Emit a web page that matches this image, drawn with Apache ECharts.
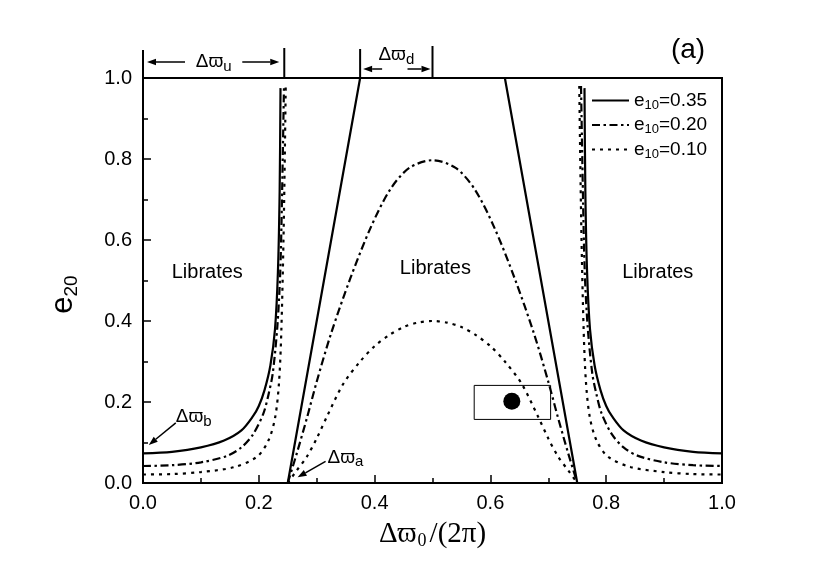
<!DOCTYPE html>
<html>
<head>
<meta charset="utf-8">
<script src="https://cdn.jsdelivr.net/npm/echarts@6/dist/echarts.min.js"></script>
<style>
  html, body { margin: 0; padding: 0; background: #fff; }
  #chart { width: 830px; height: 574px; }
</style>
</head>
<body>
<div id="chart"></div>
<script>
// e10 = 0.35 (solid)
const solidLeftX = [0, 0.05, 0.10, 0.14, 0.17, 0.19, 0.20, 0.21, 0.22, 0.228, 0.233, 0.236, 0.2375];
const solidLeftE = [0.073, 0.077, 0.088, 0.105, 0.13, 0.165, 0.19, 0.23, 0.29, 0.38, 0.52, 0.72, 0.975];
const solidMidX = [0.25, 0.375, 0.625, 0.75];
const solidMidE = [0, 1.0, 1.0, 0];
const solidRightX = [0.7625, 0.764, 0.767, 0.772, 0.78, 0.79, 0.80, 0.81, 0.83, 0.86, 0.90, 0.95, 1.0];
const solidRightE = [0.975, 0.72, 0.52, 0.38, 0.29, 0.23, 0.19, 0.165, 0.13, 0.105, 0.088, 0.077, 0.073];

// e10 = 0.20 (dash-dot)
const dashLeftX = [0, 0.05, 0.10, 0.145, 0.17, 0.19, 0.208, 0.217, 0.224, 0.232, 0.237, 0.240, 0.2435];
const dashLeftE = [0.042, 0.044, 0.051, 0.067, 0.088, 0.12, 0.172, 0.22, 0.27, 0.386, 0.52, 0.70, 0.98];
const dashMidX = [0.25, 0.266, 0.283, 0.30, 0.325, 0.358, 0.393, 0.427, 0.46, 0.50, 0.54, 0.573, 0.607, 0.642, 0.675, 0.70, 0.717, 0.734, 0.75];
const dashMidE = [0, 0.075, 0.16, 0.25, 0.37, 0.505, 0.63, 0.725, 0.778, 0.797, 0.778, 0.725, 0.63, 0.505, 0.37, 0.25, 0.16, 0.075, 0];
const dashRightX = [0.7565, 0.76, 0.763, 0.768, 0.776, 0.783, 0.792, 0.81, 0.83, 0.855, 0.90, 0.95, 1.0];
const dashRightE = [0.98, 0.70, 0.52, 0.386, 0.27, 0.22, 0.172, 0.12, 0.088, 0.067, 0.051, 0.044, 0.042];

// e10 = 0.10 (dotted)
const dotLeftX = [0, 0.05, 0.10, 0.157, 0.197, 0.217, 0.2285, 0.235, 0.239, 0.243, 0.2465];
const dotLeftE = [0.021, 0.022, 0.027, 0.039, 0.065, 0.106, 0.164, 0.25, 0.38, 0.63, 0.98];
const dotMidX = [0.25, 0.265, 0.283, 0.30, 0.318, 0.346, 0.375, 0.40, 0.425, 0.45, 0.475, 0.50, 0.525, 0.55, 0.575, 0.60, 0.625, 0.654, 0.682, 0.70, 0.717, 0.735, 0.75];
const dotMidE = [0, 0.03, 0.065, 0.11, 0.165, 0.245, 0.30, 0.338, 0.365, 0.385, 0.396, 0.40, 0.396, 0.385, 0.365, 0.338, 0.30, 0.245, 0.165, 0.11, 0.065, 0.03, 0];
const dotRightX = [0.7535, 0.757, 0.761, 0.765, 0.7715, 0.783, 0.803, 0.843, 0.90, 0.95, 1.0];
const dotRightE = [0.98, 0.63, 0.38, 0.25, 0.164, 0.106, 0.065, 0.039, 0.027, 0.022, 0.021];

// marked point and its box
const pointX = [0.637];
const pointE = [0.202];
const boxX = [0.572, 0.704];
const boxE = [0.157, 0.241];

const seriesNames = ['e10=0.35', 'e10=0.20', 'e10=0.10'];

const FONT = '"Liberation Sans", Arial, Helvetica, sans-serif';
const SERIF = '"Liberation Serif", "Times New Roman", serif';

const pairs = (xs, ys) => xs.map((x, i) => [x, ys[i]]);

const styles = [
  { color: '#000', width: 2.2, type: 'solid' },
  { color: '#000', width: 2.2, type: [8, 3.5, 2.5, 3.5] },
  { color: '#000', width: 2.2, type: [3, 5] }
];

const branches = [
  [[solidLeftX, solidLeftE], [solidMidX, solidMidE], [solidRightX, solidRightE]],
  [[dashLeftX, dashLeftE], [dashMidX, dashMidE], [dashRightX, dashRightE]],
  [[dotLeftX, dotLeftE], [dotMidX, dotMidE], [dotRightX, dotRightE]]
];

const series = [];
branches.forEach((group, k) => {
  group.forEach(([xs, ys], j) => {
    series.push({
      name: seriesNames[k],
      type: 'line',
      data: pairs(xs, ys),
      showSymbol: false,
      symbol: 'none',
      // the solid middle branch is two straight lines
      smooth: (k === 0 && j === 1) ? false : 0.3,
      lineStyle: styles[k],
      itemStyle: { color: '#000' },
      animation: false
    });
  });
});

series.push({
  type: 'scatter',
  data: pairs(pointX, pointE),
  symbolSize: 17,
  itemStyle: { color: '#000', opacity: 1 },
  z: 5,
  animation: false,
  markArea: {
    silent: true,
    itemStyle: { color: 'rgba(0,0,0,0)', borderColor: '#000', borderWidth: 1 },
    data: [[{ coord: [boxX[0], boxE[1]] }, { coord: [boxX[1], boxE[0]] }]]
  }
});

const chart = echarts.init(document.getElementById('chart'));

chart.setOption({
  backgroundColor: '#fff',
  animation: false,
  grid: {
    left: 143, right: 108, top: 78, bottom: 91,
    show: true, borderColor: '#000', borderWidth: 2, backgroundColor: 'transparent'
  },
  legend: {
    data: seriesNames,
    orient: 'vertical',
    left: 586,
    top: 86,
    itemWidth: 37,
    itemHeight: 14,
    itemGap: 4,
    itemStyle: { opacity: 0 },
    formatter: name => '{e|e}{s|10}{t|=' + name.split('=')[1] + '}',
    textStyle: {
      color: '#000',
      fontFamily: FONT,
      rich: {
        e: { fontSize: 19, lineHeight: 22, fontFamily: FONT, color: '#000' },
        s: { fontSize: 13, lineHeight: 10, verticalAlign: 'bottom', fontFamily: FONT, color: '#000' },
        t: { fontSize: 19, lineHeight: 22, fontFamily: FONT, color: '#000' }
      }
    }
  },
  xAxis: {
    type: 'value',
    min: 0, max: 1, interval: 0.2,
    name: '{d|Δϖ}{s|0}{d|/(2π)}',
    nameLocation: 'middle',
    nameGap: 35,
    nameTextStyle: {
      color: '#000',
      rich: {
        d: { fontSize: 29, lineHeight: 32, fontFamily: SERIF, color: '#000' },
        s: { fontSize: 18, lineHeight: 4, verticalAlign: 'bottom', fontFamily: SERIF, color: '#000', padding: [0, 3, 0, 1] }
      }
    },
    axisLine: { lineStyle: { color: '#000', width: 2 } },
    axisTick: { inside: true, length: 8, lineStyle: { color: '#000', width: 1.5 } },
    minorTick: { show: true, splitNumber: 2, length: 5, lineStyle: { color: '#000', width: 1.5 } },
    splitLine: { show: false },
    axisLabel: {
      color: '#000', fontSize: 20, fontFamily: FONT, margin: 10,
      formatter: v => v.toFixed(1)
    }
  },
  yAxis: {
    type: 'value',
    min: 0, max: 1, interval: 0.2,
    name: '{e|e}{s|20}',
    nameLocation: 'middle',
    nameGap: 62,
    nameTextStyle: {
      color: '#000',
      rich: {
        e: { fontSize: 31, lineHeight: 36, fontFamily: FONT, color: '#000' },
        s: { fontSize: 19, lineHeight: 16, verticalAlign: 'bottom', fontFamily: FONT, color: '#000', padding: [0, 28, 0, 0] }
      }
    },
    axisLine: { lineStyle: { color: '#000', width: 2 } },
    axisTick: { inside: true, length: 8, lineStyle: { color: '#000', width: 1.5 } },
    minorTick: { show: true, splitNumber: 2, length: 5, lineStyle: { color: '#000', width: 1.5 } },
    splitLine: { show: false },
    axisLabel: {
      color: '#000', fontSize: 20, fontFamily: FONT, margin: 11,
      formatter: v => v.toFixed(1)
    }
  },
  series: series
});

// annotations drawn in pixel space, anchored on the axes
const toPx = (x, e) => chart.convertToPixel({ gridIndex: 0 }, [x, e]);

function arrow(x1, y1, x2, y2) {
  const head = 9, half = 3.2;
  const a = Math.atan2(y2 - y1, x2 - x1);
  const bx = x2 - head * Math.cos(a), by = y2 - head * Math.sin(a);
  const nx = -Math.sin(a) * half, ny = Math.cos(a) * half;
  return [
    { type: 'line', shape: { x1: x1, y1: y1, x2: bx, y2: by }, style: { stroke: '#000', lineWidth: 1.5 } },
    { type: 'polygon', shape: { points: [[x2, y2], [bx + nx, by + ny], [bx - nx, by - ny]] }, style: { fill: '#000' } }
  ];
}

function vbar(x, y1, y2) {
  return { type: 'line', shape: { x1: x, y1: y1, x2: x, y2: y2 }, style: { stroke: '#000', lineWidth: 2 } };
}

function varpi(label, x, y, align) {
  return {
    type: 'text',
    style: {
      x: x, y: y,
      text: '{d|Δϖ}{s|' + label + '}',
      align: align, verticalAlign: 'middle',
      textAlign: align, textVerticalAlign: 'middle',
      rich: {
        d: { fontSize: 19, lineHeight: 24, fontFamily: FONT, fill: '#000', color: '#000' },
        s: { fontSize: 15, lineHeight: 10, verticalAlign: 'bottom', fontFamily: FONT, fill: '#000', color: '#000' }
      }
    }
  };
}

function plainText(str, x, y, size) {
  return {
    type: 'text',
    style: {
      x: x, y: y, text: str,
      font: size + 'px ' + FONT, fill: '#000',
      align: 'center', verticalAlign: 'middle',
      textAlign: 'center', textVerticalAlign: 'middle'
    }
  };
}

const topY = toPx(0, 1)[1];
const xa = toPx(0, 1)[0], xb = toPx(0.244, 1)[0];
const xc = toPx(0.375, 1)[0], xd = toPx(0.5, 1)[0];
const bTip = toPx(0.01, 0.094), aTip = toPx(0.267, 0.014);
const libL = toPx(0.111, 0.52), libM = toPx(0.505, 0.53), libR = toPx(0.889, 0.52);

const els = [].concat(
  [vbar(xa, topY - 28, topY), vbar(xb, topY - 30, topY)],
  arrow(xa + 42, topY - 16, xa + 4, topY - 16),
  arrow(xb - 42, topY - 16, xb - 5, topY - 16),
  [varpi('u', (xa + xb) / 2, topY - 16, 'center')],
  [vbar(xc, topY - 29, topY), vbar(xd, topY - 32, topY)],
  arrow(xc + 22, topY - 9, xc + 3, topY - 9),
  arrow(xd - 25, topY - 9, xd - 2, topY - 9),
  [varpi('d', (xc + xd) / 2, topY - 23, 'center')],
  arrow(bTip[0] + 27, bTip[1] - 22, bTip[0], bTip[1]),
  [varpi('b', bTip[0] + 27, bTip[1] - 28, 'left')],
  arrow(aTip[0] + 28, aTip[1] - 16, aTip[0], aTip[1]),
  [varpi('a', aTip[0] + 30, aTip[1] - 20, 'left')],
  [
    plainText('Librates', libL[0], libL[1], 20),
    plainText('Librates', libM[0], libM[1], 20),
    plainText('Librates', libR[0], libR[1], 20),
    plainText('(a)', 688, 50, 28)
  ]
);

chart.setOption({ graphic: { elements: els } });
</script>
</body>
</html>
